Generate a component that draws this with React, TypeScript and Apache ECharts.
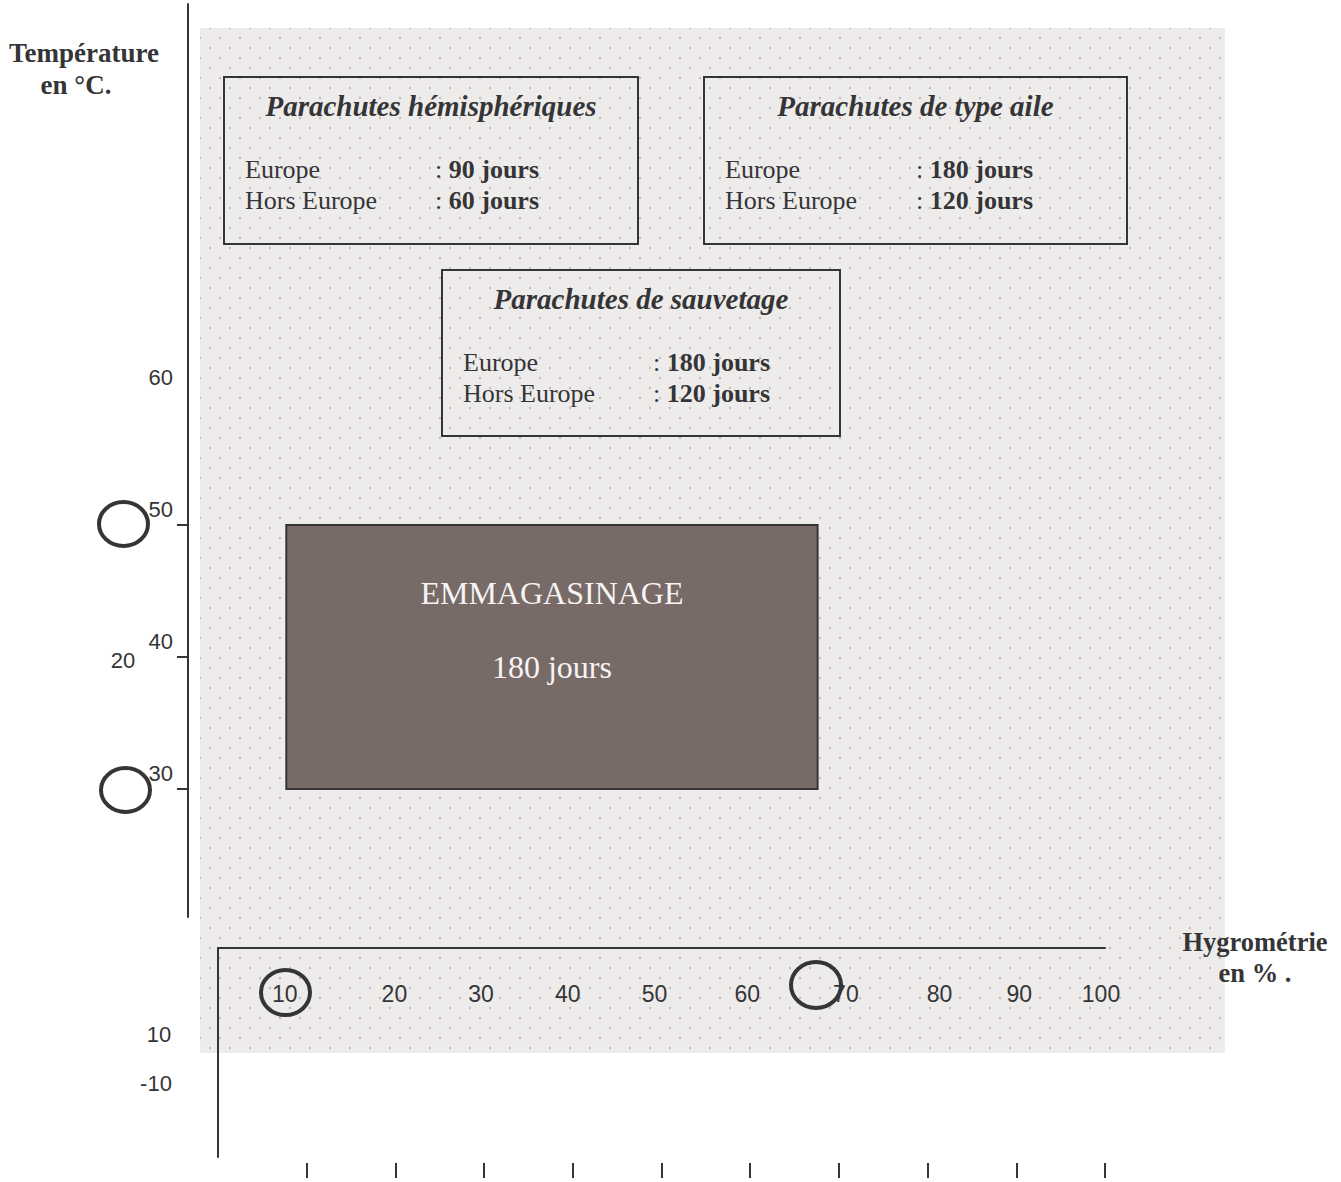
import React, { useEffect, useRef } from "react";
import * as echarts from "echarts";

// ---- data ----
const hygroTicks = [10, 20, 30, 40, 50, 60, 70, 80, 90, 100];
const tempTicks = [30, 40, 50];
const tempLabels = [30, 40, 50, 60];
const strayLabels = ["20", "10", "-10"];
const storageHygro = [7.7, 67.6];
const storageTemp = [30, 50];
const storageTitle = "EMMAGASINAGE";
const storageDuration = "180 jours";
const boxTitles = ["Parachutes hémisphériques", "Parachutes de type aile", "Parachutes de sauvetage"];
const regionNames = ["Europe", "Hors Europe"];
const boxDurations = [
  [90, 60],
  [180, 120],
  [180, 120],
];
const yAxisTitle = ["Température", "en °C."];
const xAxisTitle = ["Hygrométrie", "en % ."];

// ---- styles / layout ----
const INK = "#353537";
const SANS = "Liberation Sans";
const SERIF = "Liberation Serif";
const hygroLabelShift = [-22, -1, -3, -5, -7, -3, 7, 12, 3, -4];
const boxLayout = [
  { x: 224, y: 77, w: 414, h: 167, lx: 245, cx: 435 },
  { x: 704, y: 77, w: 423, h: 167, lx: 725, cx: 916 },
  { x: 442, y: 270, w: 398, h: 166, lx: 463, cx: 653 },
];
const strayLayout = [
  { x: 123, y: 660 },
  { x: 159, y: 1034 },
  { x: 156, y: 1083 },
];
const ringLayout = [
  { cx: 123.5, cy: 524, rx: 24.5, ry: 22 },
  { cx: 125.5, cy: 790, rx: 24.5, ry: 22 },
  { cx: 285.5, cy: 992.5, rx: 24.5, ry: 22.5 },
  { cx: 816, cy: 985, rx: 25, ry: 23 },
];

function makeDots(): string {
  const c = document.createElement("canvas");
  c.width = 20;
  c.height = 20;
  const ctx = c.getContext("2d")!;
  ctx.fillStyle = "#eeeceb";
  ctx.fillRect(0, 0, 20, 20);
  ctx.fillStyle = "#c7babd";
  const pts = [
    [10, 8],
    [0, 18],
    [20, 18],
    [0, -2],
    [20, -2],
  ];
  pts.forEach(([x, y]) => {
    ctx.beginPath();
    ctx.arc(x, y, 1.2, 0, Math.PI * 2);
    ctx.fill();
  });
  return c.toDataURL();
}

function txt(x: number, y: number, text: string, size: number, family: string, extra: any = {}) {
  return {
    type: "text",
    z: 5,
    style: {
      x,
      y,
      text,
      fill: INK,
      fontSize: size,
      fontFamily: family,
      align: "center",
      verticalAlign: "middle",
      ...extra,
    },
  };
}

export default function App() {
  const ref = useRef<HTMLDivElement>(null);
  useEffect(() => {
    if (!ref.current) return;
    const chart = echarts.init(ref.current, null, { renderer: "svg" });

    const rich: Record<string, any> = {};
    hygroTicks.forEach((v, i) => {
      const s = hygroLabelShift[i];
      rich["l" + i] = {
        fontSize: 23,
        fontFamily: SANS,
        color: INK,
        padding: s < 0 ? [0, -2 * s, 0, 0] : [0, 0, 0, 2 * s],
      };
    });

    const graphics: any[] = [];
    graphics.push({
      type: "rect",
      z: -10,
      shape: { x: 200, y: 28, width: 1025, height: 1025 },
      style: { fill: { image: makeDots(), repeat: "repeat", imageWidth: 20, imageHeight: 20 } as any },
      silent: true,
    });

    boxTitles.forEach((t, i) => {
      const b = boxLayout[i];
      graphics.push({
        type: "rect",
        z: 5,
        shape: { x: b.x, y: b.y, width: b.w, height: b.h },
        style: { fill: "none", stroke: INK, lineWidth: 2 },
      });
      graphics.push(
        txt(b.x + b.w / 2, b.y + 29, t, 29, SERIF, { fontWeight: "bold", fontStyle: "italic" })
      );
      regionNames.forEach((r, j) => {
        const y = b.y + 92 + j * 31;
        graphics.push(txt(b.lx, y, r, 26, SERIF, { align: "left" }));
        graphics.push(
          txt(b.cx, y, `{c|:} {b|${boxDurations[i][j]} jours}`, 26, SERIF, {
            align: "left",
            rich: {
              c: { fontSize: 26, fontFamily: SERIF, fill: INK },
              b: { fontSize: 26, fontFamily: SERIF, fontWeight: "bold", fill: INK },
            },
          })
        );
      });
    });

    graphics.push(txt(84, 53, yAxisTitle[0], 27, SERIF, { fontWeight: "bold" }));
    graphics.push(txt(76, 85, yAxisTitle[1], 27, SERIF, { fontWeight: "bold" }));
    graphics.push(txt(1255, 942, xAxisTitle[0], 26.5, SERIF, { fontWeight: "bold" }));
    graphics.push(txt(1255, 973, xAxisTitle[1], 26.5, SERIF, { fontWeight: "bold" }));

    strayLabels.forEach((t, i) => {
      graphics.push(txt(strayLayout[i].x, strayLayout[i].y, t, 22, SANS));
    });

    ringLayout.forEach((c) => {
      graphics.push({
        type: "ellipse",
        z: 10,
        shape: { cx: c.cx, cy: c.cy, rx: c.rx, ry: c.ry },
        style: { fill: "none", stroke: INK, lineWidth: 4 },
      });
    });

    const option: any = {
      animation: false,
      backgroundColor: "#ffffff",
      grid: [
        { left: 218, top: 4, width: 887, height: 913 },
        { left: 218, top: 948, width: 887, height: 209 },
      ],
      xAxis: [
        { gridIndex: 0, type: "value", min: 0, max: 100, show: false },
        {
          gridIndex: 1,
          type: "value",
          position: "top",
          min: 0,
          max: 100,
          axisLine: { show: true, onZero: false, lineStyle: { color: INK, width: 2 } },
          axisTick: { show: false },
          splitLine: { show: false },
          axisLabel: {
            show: true,
            inside: true,
            margin: 34,
            customValues: hygroTicks,
            formatter: (v: number) => {
              const i = hygroTicks.indexOf(v);
              return `{l${i}|${v}}`;
            },
            rich,
          },
        },
        {
          gridIndex: 1,
          type: "value",
          position: "bottom",
          offset: 6,
          min: 0,
          max: 100,
          axisLine: { show: false, onZero: false },
          axisTick: { show: true, customValues: hygroTicks, length: 15, lineStyle: { color: INK, width: 2 } },
          axisLabel: { show: false },
          splitLine: { show: false },
        },
      ],
      yAxis: [
        {
          gridIndex: 0,
          type: "value",
          min: 20.3,
          max: 89.47,
          offset: 30,
          axisLine: { show: true, onZero: false, lineStyle: { color: INK, width: 2 } },
          axisTick: { show: true, customValues: tempTicks, length: 11, lineStyle: { color: INK, width: 2 } },
          axisLabel: {
            show: true,
            customValues: tempLabels,
            margin: 15,
            formatter: (v: number) => `{t|${v}}`,
            rich: {
              t: {
                fontSize: 22,
                fontFamily: SANS,
                color: INK,
                padding: [0, 0, 30, 0],
              },
            },
          },
          splitLine: { show: false },
        },
        {
          gridIndex: 1,
          type: "value",
          min: 0,
          max: 1,
          axisLine: { show: true, onZero: false, lineStyle: { color: INK, width: 2 } },
          axisTick: { show: false },
          axisLabel: { show: false },
          splitLine: { show: false },
        },
      ],
      series: [
        {
          type: "custom",
          xAxisIndex: 0,
          yAxisIndex: 0,
          clip: false,
          encode: { x: [0, 1], y: [2, 3] },
          data: [[storageHygro[0], storageHygro[1], storageTemp[0], storageTemp[1]]],
          renderItem: (_params: any, api: any) => {
            const p0 = api.coord([api.value(0), api.value(3)]);
            const p1 = api.coord([api.value(1), api.value(2)]);
            const w = p1[0] - p0[0];
            const h = p1[1] - p0[1];
            const cx = p0[0] + w / 2;
            const ts = {
              fill: "#f6f4f4",
              fontSize: 32,
              fontFamily: SERIF,
              align: "center",
              verticalAlign: "middle",
            };
            return {
              type: "group",
              children: [
                {
                  type: "rect",
                  shape: { x: p0[0], y: p0[1], width: w, height: h },
                  style: { fill: "#786b67", stroke: INK, lineWidth: 2 },
                },
                { type: "text", style: { ...ts, x: cx, y: p0[1] + 68, text: storageTitle } },
                { type: "text", style: { ...ts, x: cx, y: p0[1] + 142, text: storageDuration } },
              ],
            };
          },
        },
      ],
      graphic: graphics,
    };
    chart.setOption(option);
    return () => chart.dispose();
  }, []);
  return (
    <div
      ref={ref}
      style={{ position: "absolute", left: 0, top: 0, width: 1341, height: 1182 }}
    />
  );
}
